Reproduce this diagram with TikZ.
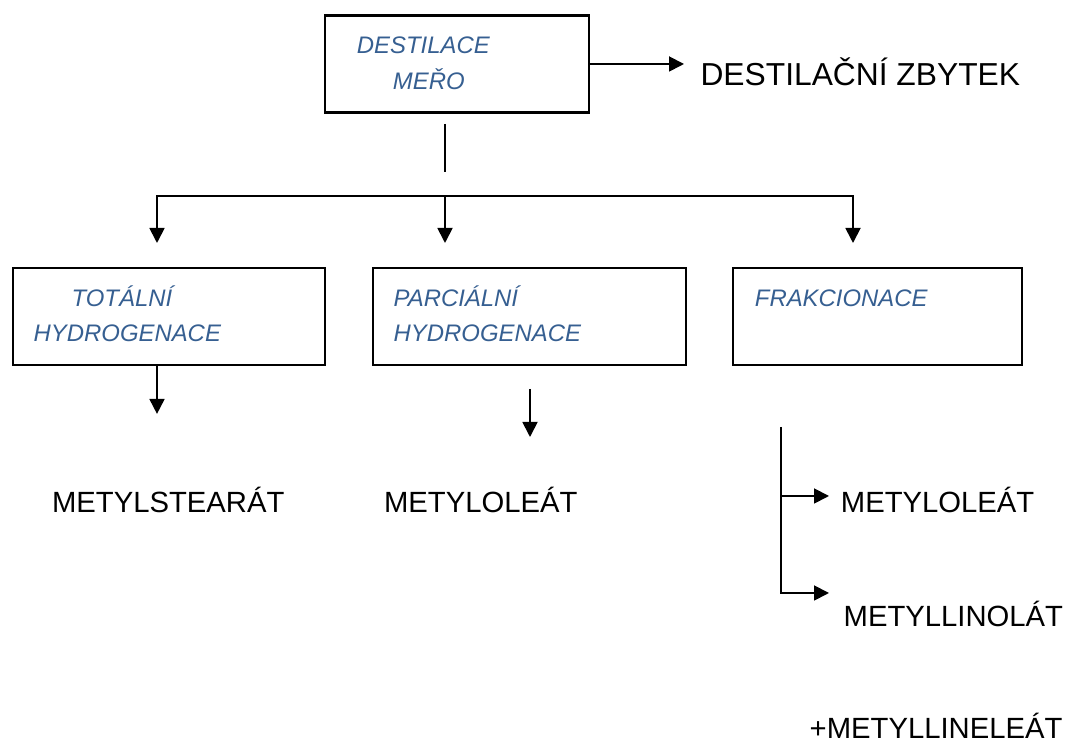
\documentclass[tikz,border=0pt]{standalone}
\usepackage{fontspec}
\setmainfont{Liberation Sans}
\usepackage{xcolor}
\usetikzlibrary{arrows.meta,positioning,calc}
\definecolor{stepblue}{HTML}{365F91}

\begin{document}
\begin{tikzpicture}[>={Triangle[length=0.375cm,width=0.375cm]}, line width=1.3pt,
    procbox/.style={rectangle, draw, line width=1.6pt, minimum height=2.42cm},
    proctext/.style={anchor=base west, inner sep=0, text=stepblue, font=\fontsize{17}{20}\selectfont\itshape},
    product/.style={anchor=base west, inner sep=0, font=\fontsize{20.8}{24}\selectfont}]
    \useasboundingbox (0,0) rectangle (26.675,18.6);

    % process boxes
    \node[procbox, minimum width=6.6cm] (destilace) at (11.425,17.0) {};
    \node[procbox, minimum width=7.8cm] (totalni) at (4.225,10.69) {};
    \node[procbox, minimum width=7.825cm] (parcialni) at (13.2375,10.69) {};
    \node[procbox, minimum width=7.225cm] (frakcionace) at (21.9375,10.69) {};

    % texts inside the boxes
    \node[proctext] (t-destilace) at (8.9,17.25) {DESTILACE};
    \node[proctext] (t-mero) at (9.8,16.35) {MEŘO};
    \node[proctext] (t-totalni) at (1.77,10.93) {TOTÁLNÍ};
    \node[proctext] (t-hydro1) at (0.82,10.05) {HYDROGENACE};
    \node[proctext] (t-parcialni) at (9.82,10.93) {PARCIÁLNÍ};
    \node[proctext] (t-hydro2) at (9.82,10.05) {HYDROGENACE};
    \node[proctext] (t-frakcionace) at (18.85,10.93) {FRAKCIONACE};

    % products
    \node[product, font=\fontsize{22.6}{26}\selectfont] (zbytek) at (17.49,16.45) {DESTILAČNÍ ZBYTEK};
    \node[product] (stearat) at (1.28,5.78) {METYLSTEARÁT};
    \node[product] (oleat1) at (9.58,5.78) {METYLOLEÁT};
    \node[product] (oleat2) at (21.0,5.78) {METYLOLEÁT};
    \node[product] (linolat) at (21.07,2.93) {METYLLINOLÁT};
    \node[product] (lineleat) at (20.22,0.14) {+METYLLINELEÁT};

    % junction points
    \coordinate (zbytek-in) at (17.1,17.0);
    \coordinate (stem-top) at (11.125,15.5);
    \coordinate (stem-bot) at (11.125,14.3);
    \coordinate (bus1) at (3.925,13.7);
    \coordinate (bus2) at (11.125,13.7);
    \coordinate (bus3) at (21.325,13.7);
    \coordinate (parc-out) at (13.25,8.875);
    \coordinate (frak-top) at (19.525,7.925);
    \coordinate (frak-mid) at (19.525,6.2);
    \coordinate (frak-bot) at (19.525,3.775);

    \draw[->] (destilace.east |- zbytek-in) -- (zbytek-in);
    \draw (stem-top) -- (stem-bot);
    \draw[->] (bus2) -- (bus1) -- ++(0,-1.175);
    \draw[->] (bus2) -- ++(0,-1.175);
    \draw[->] (bus2) -- (bus3) -- ++(0,-1.175);

    \draw[->] ([xshift=-0.3cm]totalni.south) -- ++(0,-1.2);
    \draw[->] (parc-out) -- ++(0,-1.2);

    \draw[->] (frak-top) -- (frak-bot) -- ++(1.2,0);
    \draw[->] (frak-mid) -- ++(1.2,0);
\end{tikzpicture}
\end{document}
